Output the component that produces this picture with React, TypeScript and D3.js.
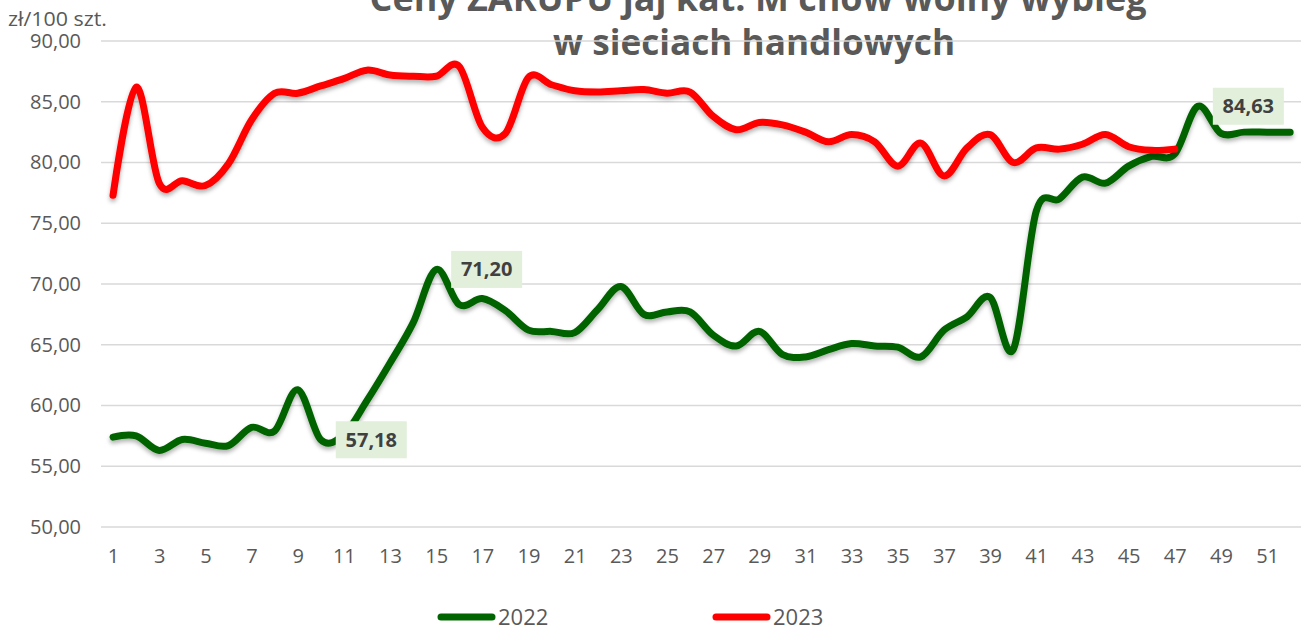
import React, { useEffect, useRef } from 'react';
import * as d3 from 'd3';

// Weekly prices, zł/100 szt.
const weeks = d3.range(1, 53).map(String);
const tickWeeks = weeks.filter((w, i) => i % 2 === 0);
const yTicks = [50, 55, 60, 65, 70, 75, 80, 85, 90];

const prices2022 = [
  57.4, 57.5, 56.3, 57.2, 56.9, 56.7, 58.2, 57.9, 61.3, 57.18,
  57.6, 60.4, 63.5, 66.8, 71.2, 68.3, 68.8, 67.8, 66.2, 66.1,
  66.0, 67.9, 69.8, 67.5, 67.7, 67.7, 65.8, 64.9, 66.1, 64.2,
  64.0, 64.6, 65.1, 64.9, 64.8, 64.0, 66.2, 67.3, 68.9, 64.6,
  76.0, 77.0, 78.8, 78.3, 79.7, 80.5, 80.7, 84.63, 82.4, 82.5,
  82.5, 82.5,
];

const prices2023 = [
  77.3, 86.2, 78.3, 78.5, 78.1, 79.9, 83.5, 85.7, 85.7, 86.3,
  86.9, 87.6, 87.2, 87.1, 87.1, 87.9, 82.9, 82.4, 87.0, 86.4,
  85.9, 85.8, 85.9, 86.0, 85.7, 85.8, 83.8, 82.7, 83.3, 83.1,
  82.5, 81.7, 82.3, 81.7, 79.7, 81.6, 78.9, 81.2, 82.3, 80.0,
  81.2, 81.1, 81.5, 82.3, 81.3, 81.0, 81.1,
];

// weeks (1-based) of 2022 that carry a data label
const labelWeeks2022 = [10, 15, 48];

const seriesNames = ['2022', '2023'];
const seriesColors = ['#006400', '#FF0000'];

const titleLines = ['Ceny ZAKUPU jaj kat. M chów wolny wybieg', 'w sieciach handlowych'];
const unitLabel = 'zł/100 szt.';

const W = 1309;
const H = 630;
const FONT = '"Open Sans", "Liberation Sans", sans-serif';

const App = () => {
  const svgRef = useRef<SVGSVGElement>(null);

  useEffect(() => {
    const svg = d3.select(svgRef.current);
    svg.selectAll('*').remove();

    const x = d3.scalePoint<string>().domain(weeks).range([101.5, 1301.7]).padding(0.5);
    const y = d3.scaleLinear().domain([50, 90]).range([527, 41]);

    // shadow under the lines
    const defs = svg.append('defs');
    defs.append('filter')
      .attr('id', 'lineShadow')
      .attr('x', '-5%').attr('y', '-20%').attr('width', '110%').attr('height', '140%')
      .append('feDropShadow')
      .attr('dx', 0).attr('dy', 3)
      .attr('stdDeviation', 2)
      .attr('flood-color', '#000')
      .attr('flood-opacity', 0.3);

    // Title (first line sits mostly above the top edge, as in the original)
    svg.append('text')
      .attr('x', 758).attr('y', 11)
      .attr('text-anchor', 'middle')
      .attr('font-family', FONT).attr('font-weight', 700).attr('font-size', 35)
      .attr('fill', '#595959')
      .attr('textLength', 777).attr('lengthAdjust', 'spacingAndGlyphs')
      .text(titleLines[0]);
    svg.append('text')
      .attr('x', 754).attr('y', 55)
      .attr('text-anchor', 'middle')
      .attr('font-family', FONT).attr('font-weight', 700).attr('font-size', 35)
      .attr('fill', '#595959')
      .attr('textLength', 402).attr('lengthAdjust', 'spacingAndGlyphs')
      .text(titleLines[1]);

    // Gridlines
    svg.append('g')
      .selectAll('line')
      .data(yTicks)
      .enter().append('line')
      .attr('x1', 101).attr('x2', 1301)
      .attr('y1', d => y(d)).attr('y2', d => y(d))
      .attr('stroke', '#D9D9D9')
      .attr('stroke-width', 1.5);

    // Y axis labels
    const yAxis = svg.append('g')
      .attr('transform', 'translate(81,0)')
      .call(d3.axisLeft(y).tickValues(yTicks).tickSize(0).tickPadding(0)
        .tickFormat(d => d3.format('.2f')(d as number).replace('.', ',')));
    yAxis.select('.domain').remove();
    yAxis.selectAll('text')
      .attr('font-family', FONT).attr('font-size', 20).attr('fill', '#595959');

    svg.append('text')
      .attr('x', 8).attr('y', 26)
      .attr('font-family', FONT).attr('font-size', 20).attr('fill', '#595959')
      .attr('textLength', 99).attr('lengthAdjust', 'spacingAndGlyphs')
      .text(unitLabel);

    // X axis labels
    const xAxis = svg.append('g')
      .attr('transform', 'translate(0,549)')
      .call(d3.axisBottom(x).tickValues(tickWeeks).tickSize(0).tickPadding(0));
    xAxis.select('.domain').remove();
    xAxis.selectAll('text')
      .attr('font-family', FONT).attr('font-size', 20).attr('fill', '#595959')
      .attr('dy', '0.71em');

    // Lines
    const line = d3.line<number>()
      .x((d, i) => x(weeks[i]) as number)
      .y(d => y(d))
      .curve(d3.curveCatmullRom.alpha(0));

    [prices2022, prices2023].forEach((vals, k) => {
      svg.append('path')
        .datum(vals)
        .attr('fill', 'none')
        .attr('stroke', seriesColors[k])
        .attr('stroke-width', 7)
        .attr('stroke-linecap', 'round')
        .attr('stroke-linejoin', 'round')
        .attr('filter', 'url(#lineShadow)')
        .attr('d', line);
    });

    // Data labels
    const labels = svg.append('g')
      .selectAll('g')
      .data(labelWeeks2022)
      .enter().append('g')
      .attr('transform', w => `translate(${(x(weeks[w - 1]) as number) + 15},${y(prices2022[w - 1])})`);
    labels.append('rect')
      .attr('x', 0).attr('y', -18.5)
      .attr('width', 71).attr('height', 37)
      .attr('fill', '#E2EFDA');
    labels.append('text')
      .attr('x', 35.5).attr('y', 0)
      .attr('dy', '0.35em')
      .attr('text-anchor', 'middle')
      .attr('font-family', FONT).attr('font-weight', 700).attr('font-size', 20)
      .attr('fill', '#404040')
      .text(w => d3.format('.2f')(prices2022[w - 1]).replace('.', ','));

    // Legend
    const legendX = [438, 713];
    const legend = svg.append('g')
      .selectAll('g')
      .data(seriesNames)
      .enter().append('g')
      .attr('transform', (d, i) => `translate(${legendX[i]},617)`);
    legend.append('line')
      .attr('x1', 3).attr('x2', 54)
      .attr('stroke', (d, i) => seriesColors[i])
      .attr('stroke-width', 7)
      .attr('stroke-linecap', 'round');
    legend.append('text')
      .attr('x', 60).attr('y', 0)
      .attr('dy', '0.35em')
      .attr('font-family', FONT).attr('font-size', 22).attr('fill', '#595959')
      .text(d => d);
  }, []);

  return (
    <svg
      ref={svgRef}
      width={W}
      height={H}
      style={{ position: 'absolute', left: 0, top: 0, background: '#fff' }}
    />
  );
};

export default App;
